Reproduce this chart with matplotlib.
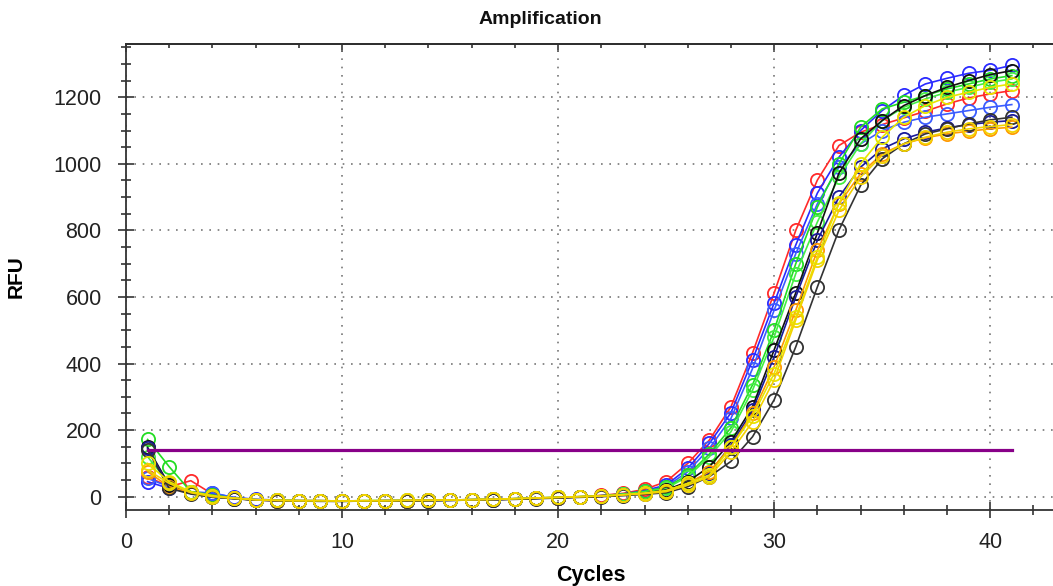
import matplotlib.pyplot as plt
import numpy as np
from matplotlib.ticker import MultipleLocator

plt.rcParams['font.family'] = ['Liberation Sans', 'DejaVu Sans']

cycles = np.arange(1, 42)

# shared-ish baseline readings are typed per well (cycles 1..41)
red = [60, 30, 48, 8, -4, -9, -11, -12, -12, -13, -13, -12, -12, -11, -10, -9, -8, -6, -4, -2, 0, 4, 10, 22, 45,
       100, 170, 270, 432, 612, 800, 951, 1055, 1095, 1118, 1138, 1158, 1180, 1198, 1210, 1220]
blue_a = [45, 25, 15, 10, -2, -8, -10, -12, -12, -13, -13, -12, -12, -11, -10, -9, -8, -6, -5, -3, -1, 3, 8, 18, 35,
          85, 160, 252, 411, 582, 756, 912, 1020, 1100, 1160, 1206, 1240, 1257, 1272, 1281, 1296]
blue_b = [55, 30, 12, 12, -3, -9, -11, -12, -13, -13, -13, -12, -12, -11, -10, -9, -8, -7, -5, -3, -1, 2, 7, 15, 30,
          75, 145, 235, 385, 560, 730, 880, 990, 1060, 1100, 1125, 1140, 1150, 1160, 1170, 1178]
green_a = [172, 90, 15, 5, -4, -9, -11, -12, -12, -13, -12, -12, -11, -11, -10, -9, -8, -6, -4, -2, 0, 3, 8, 16, 28,
           65, 128, 207, 336, 500, 700, 870, 1000, 1110, 1165, 1185, 1205, 1225, 1240, 1255, 1265]
green_b = [120, 40, 10, 2, -5, -10, -11, -12, -13, -13, -12, -12, -12, -11, -10, -9, -8, -6, -4, -2, 0, 2, 7, 14, 25,
           60, 120, 195, 320, 480, 670, 825, 960, 1060, 1130, 1170, 1195, 1215, 1230, 1245, 1255]
black_a = [148, 35, 10, 0, -6, -10, -12, -13, -13, -14, -13, -13, -12, -12, -11, -10, -9, -7, -5, -3, -1, 1, 5, 11, 20,
           45, 90, 165, 270, 441, 612, 792, 972, 1075, 1130, 1175, 1205, 1230, 1250, 1268, 1280]
navy = [145, 30, 10, 0, -5, -10, -12, -13, -13, -13, -13, -12, -12, -11, -11, -10, -9, -7, -5, -3, -1, 1, 5, 10, 18,
        40, 70, 155, 260, 420, 600, 770, 900, 990, 1045, 1075, 1095, 1108, 1118, 1125, 1130]
orange = [75, 30, 12, 2, -5, -10, -12, -12, -13, -13, -13, -12, -12, -11, -10, -9, -8, -7, -5, -3, -1, 1, 5, 10, 18,
          40, 75, 150, 250, 390, 560, 740, 880, 970, 1030, 1060, 1078, 1090, 1098, 1105, 1110]
black_b = [140, 25, 8, -2, -6, -10, -12, -13, -14, -14, -13, -13, -13, -12, -11, -10, -9, -8, -6, -4, -2, 0, 3, 7, 12,
           30, 60, 106, 180, 291, 450, 630, 801, 935, 1015, 1060, 1090, 1105, 1120, 1132, 1140]
yellow_a = [100, 45, 15, 3, -4, -9, -11, -12, -12, -13, -12, -12, -11, -11, -10, -9, -8, -6, -4, -2, 0, 2, 6, 11, 18,
            40, 65, 148, 242, 370, 540, 720, 882, 1000, 1080, 1140, 1175, 1200, 1215, 1230, 1240]
yellow_b = [80, 40, 12, 0, -5, -9, -11, -12, -12, -13, -12, -12, -11, -11, -10, -9, -8, -6, -4, -2, 0, 2, 5, 9, 15,
            35, 60, 135, 225, 351, 531, 711, 860, 960, 1025, 1060, 1080, 1095, 1105, 1112, 1118]

wells = [
    (red, '#ff2a2a'), (blue_a, '#2a2aff'), (blue_b, '#3a5cff'), (green_a, '#22dd22'),
    (green_b, '#44ee44'), (black_a, '#111111'), (navy, '#1a1a99'), (orange, '#ff9a00'),
    (black_b, '#333333'), (yellow_a, '#e6e600'), (yellow_b, '#f2d200'),
]
threshold = 140

fig = plt.figure(figsize=(10.53, 5.86), dpi=100)
ax = fig.add_axes([126 / 1053, 76 / 586, 929 / 1053, 466 / 586])

for vals, col in wells:
    ax.plot(cycles, vals, color=col, lw=1.2, marker='o', ms=9.5, mfc='none', mec=col, mew=1.3)

ax.plot([cycles[0], cycles[-1]], [threshold, threshold], color='#880088', lw=2.3)

ax.set_xlim(0, 43)
ax.set_ylim(-40, 1360)
ax.xaxis.set_major_locator(MultipleLocator(10))
ax.xaxis.set_minor_locator(MultipleLocator(2))
ax.yaxis.set_major_locator(MultipleLocator(200))
ax.yaxis.set_minor_locator(MultipleLocator(50))
ax.grid(True, which='major', color='#777777', linestyle=(0, (1, 4)), lw=1.2)

for s in ax.spines.values():
    s.set_linewidth(1.3)
    s.set_color('#333333')
ax.spines['right'].set_visible(False)

ax.tick_params(which='major', direction='inout', length=11, width=1.2, labelsize=15.5,
               labelcolor='#222222', color='#333333', pad=10)
ax.tick_params(which='minor', direction='inout', length=7, width=1.2, color='#333333')
ax.tick_params(axis='y', which='major', pad=12)

top = ax.secondary_xaxis('top')
top.xaxis.set_major_locator(MultipleLocator(10))
top.xaxis.set_minor_locator(MultipleLocator(2))
top.tick_params(which='major', direction='in', length=6, width=1.2, labeltop=False, color='#333333')
top.tick_params(which='minor', direction='in', length=3, width=1.2, color='#333333')
top.spines['top'].set_linewidth(1.3)

ax.set_xlabel('Cycles', fontsize=15.5, fontweight='bold', labelpad=9)
ax.set_ylabel('RFU', fontsize=15, fontweight='bold', labelpad=20)
fig.text(540 / 1053, 1 - 19 / 586, 'Amplification', ha='center', va='center',
         fontsize=14, fontweight='bold', color='#111111')

fig.savefig('out.png', dpi=100)
